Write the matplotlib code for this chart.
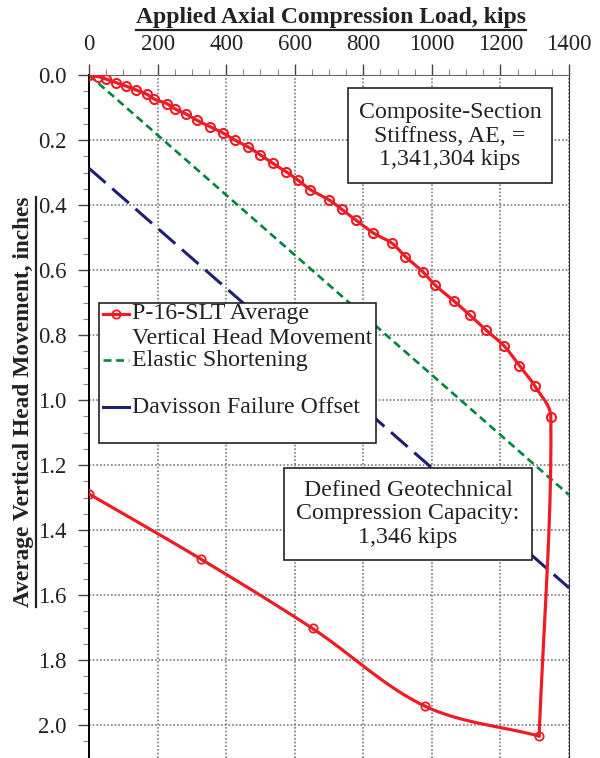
import matplotlib
matplotlib.use('Agg')
import matplotlib.pyplot as plt
import numpy as np
from matplotlib.patches import Rectangle
from matplotlib.lines import Line2D
from matplotlib.ticker import MultipleLocator, FormatStrFormatter

plt.rcParams['font.family'] = ['Liberation Serif', 'DejaVu Serif']

# loading curve (kips, inches)
load_up = [0, 27, 49, 79, 108, 137, 168, 190, 227, 252, 283, 314, 353, 390, 425,
           465, 500, 536, 574, 610, 646, 701, 737, 779, 829, 883, 923, 974, 1010,
           1064, 1110, 1158, 1211, 1255, 1301, 1347]
disp_up = [0, 0.005, 0.012, 0.024, 0.034, 0.046, 0.059, 0.074, 0.088, 0.105, 0.120,
           0.139, 0.159, 0.178, 0.200, 0.222, 0.246, 0.272, 0.297, 0.324, 0.353,
           0.385, 0.413, 0.447, 0.486, 0.517, 0.559, 0.606, 0.647, 0.695, 0.738,
           0.785, 0.834, 0.894, 0.958, 1.052]
# unloading
load_dn = [1313, 980, 652, 327, 0]
disp_dn = [2.034, 1.942, 1.703, 1.490, 1.289]

elastic_load = [0, 1400]
elastic_disp = [0, 1.292]
davisson_load = [0, 1400]
davisson_disp = [0.287, 1.578]

red = '#ee1c25'
green = '#00843d'
navy = '#1f2070'
txt = '#222222'

W, H = 600, 758
AX_L, AX_R, AX_T, AX_B = 89, 569, 75, 757.5


def ax_frac(px, py):
    return (px - AX_L) / (AX_R - AX_L), 1 - (py - AX_T) / (AX_B - AX_T)


def smooth(xs, ys, n=24):
    # bezier smoothing (excel style), control arms limited to the segment length
    sx, sy = 480 / 1400, 325.0
    pts = np.column_stack([np.asarray(xs) * sx, np.asarray(ys) * sy])
    npt = len(pts)
    tang = []
    for i in range(npt):
        a = pts[max(i - 1, 0)]
        b = pts[min(i + 1, npt - 1)]
        d = b - a
        tang.append(d / np.hypot(*d))
    out = []
    t = np.linspace(0, 1, n)[:, None]
    for i in range(npt - 1):
        p1, p2 = pts[i], pts[i + 1]
        L = np.hypot(*(p2 - p1)) / 3
        c1 = p1 + tang[i] * L
        c2 = p2 - tang[i + 1] * L
        seg = (1 - t)**3 * p1 + 3 * (1 - t)**2 * t * c1 + 3 * (1 - t) * t**2 * c2 + t**3 * p2
        out.append(seg if i == 0 else seg[1:])
    out = np.vstack(out)
    return out[:, 0] / sx, out[:, 1] / sy


fig = plt.figure(figsize=(W / 100, H / 100), dpi=100)
ax = fig.add_axes([AX_L / W, 1 - AX_B / H, (AX_R - AX_L) / W, (AX_B - AX_T) / H])

ax.set_xlim(0, 1400)
ax.set_ylim(2.1, 0)
ax.xaxis.tick_top()
ax.xaxis.set_major_locator(MultipleLocator(200))
ax.xaxis.set_minor_locator(MultipleLocator(50))
ax.yaxis.set_major_locator(MultipleLocator(0.2))
ax.yaxis.set_minor_locator(MultipleLocator(0.05))
ax.yaxis.set_major_formatter(FormatStrFormatter('%.1f'))
ax.tick_params(which='major', length=8, width=1, color='#444', labelsize=16.5,
               labelcolor=txt, labelfontfamily='Liberation Serif')
ax.tick_params(axis='x', which='major', pad=6.5)
ax.tick_params(axis='y', which='major', pad=8)
ax.tick_params(which='minor', length=4.5, width=0.8, color='#888')
ax.grid(True, which='major', color='#7a7a7a', linestyle=(0, (1, 1.2)), linewidth=1.2)
ax.set_axisbelow(True)
ax.spines['left'].set_color('black')
ax.spines['left'].set_linewidth(1.4)
ax.spines['top'].set_color('#666')
ax.spines['right'].set_color('#333')
ax.spines['bottom'].set_color('#bbb')

# lines
ax.plot(elastic_load, elastic_disp, color=green, lw=1.9, dashes=(3.0, 1.8), zorder=3)
ax.plot(davisson_load, davisson_disp, color=navy, lw=2.2, dashes=(7.2, 2.9), zorder=3)

sx_up, sy_up = smooth(load_up + [load_dn[0]], disp_up + [disp_dn[0]])
sx_dn, sy_dn = smooth(load_dn, disp_dn)
ax.plot(sx_up, sy_up, color=red, lw=2.3, zorder=5, solid_capstyle='round')
ax.plot(sx_dn, sy_dn, color=red, lw=2.3, zorder=5, solid_capstyle='round')
ax.plot(load_up, disp_up, 'o', color=red, mfc='none', ms=6.5, mew=1.5, zorder=6)
ax.plot(load_dn, disp_dn, 'o', color=red, mfc='none', ms=6, mew=1.3, zorder=6)


def box(x0, y0, x1, y1):
    fx0, fy0 = ax_frac(x0, y1)
    fx1, fy1 = ax_frac(x1, y0)
    ax.add_patch(Rectangle((fx0, fy0), fx1 - fx0, fy1 - fy0, transform=ax.transAxes,
                           facecolor='white', edgecolor='#222', lw=1.2, zorder=7))


# stiffness box
box(348, 88, 552, 183)
ax.text(*ax_frac(450, 136), 'Composite-Section\nStiffness, AE, =\n1,341,304 kips',
        transform=ax.transAxes, ha='center', va='center', fontsize=17.2,
        color=txt, linespacing=1.15, zorder=8)

# capacity box
box(284, 468, 532, 560)
ax.text(*ax_frac(408, 514), 'Defined Geotechnical\nCompression Capacity:\n1,346 kips',
        transform=ax.transAxes, ha='center', va='center', fontsize=17.2,
        color=txt, linespacing=1.15, zorder=8)

# legend drawn by hand to keep the excel spacing
box(99, 303, 376, 443)
hx0, _ = ax_frac(103, 0)
hx1, _ = ax_frac(129, 0)
tx, _ = ax_frac(132, 0)
rows = [(314, 'P-16-SLT Average', dict(color=red, lw=2.3, marker='o', mfc='none',
                                        ms=6, mew=1.3, markevery=[1])),
        (339, 'Vertical Head Movement', None),
        (360, 'Elastic Shortening', dict(color=green, lw=1.9, dashes=(3.0, 1.8))),
        (407, 'Davisson Failure Offset', dict(color=navy, lw=2.2))]
for py, label, style in rows:
    _, fy = ax_frac(0, py)
    if style is not None:
        ax.add_line(Line2D([hx0, (hx0 + hx1) / 2, hx1], [fy, fy, fy],
                           transform=ax.transAxes, zorder=8, **style))
    ax.text(tx, fy, label, transform=ax.transAxes, ha='left', va='center',
            fontsize=17.2, color=txt, zorder=8)

# axis titles, underlined like the original
xl = fig.text(331 / W, 1 - 18 / H, 'Applied Axial Compression Load, kips',
              ha='center', va='center', fontsize=17, fontweight='bold', color=txt)
yl = fig.text(24 / W, 1 - 402 / H, 'Average Vertical Head Movement, inches',
              ha='center', va='center', fontsize=16.8, fontweight='bold', color=txt,
              rotation=90)

fig.canvas.draw()
r = fig.canvas.get_renderer()
bb = xl.get_window_extent(r)
fig.add_artist(Line2D([bb.x0 / W, bb.x1 / W], [(bb.y0 - 1) / H, (bb.y0 - 1) / H],
                      transform=fig.transFigure, color=txt, lw=1.6))
bb = yl.get_window_extent(r)
fig.add_artist(Line2D([(bb.x1 + 1) / W, (bb.x1 + 1) / W], [bb.y0 / H, bb.y1 / H],
                      transform=fig.transFigure, color=txt, lw=1.6))

fig.savefig('out.png', dpi=100)
